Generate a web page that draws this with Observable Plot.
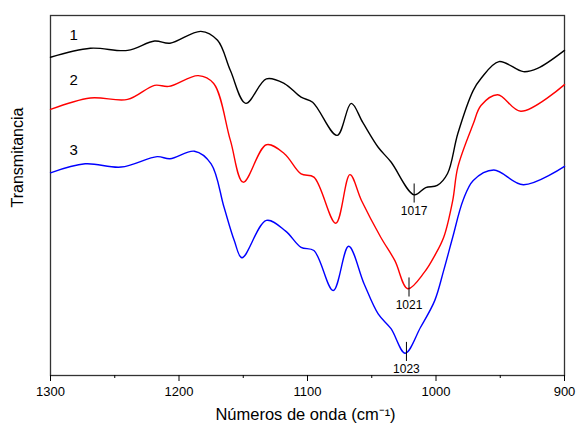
<!DOCTYPE html>
<html>
<head>
<meta charset="utf-8">
<script src="https://cdn.jsdelivr.net/npm/d3@7"></script>
<script src="https://cdn.jsdelivr.net/npm/@observablehq/plot@0.6"></script>
<style>
  html, body { margin: 0; padding: 0; background: #fff; }
</style>
</head>
<body>
<div id="chart"></div>
<script>
// Spectrum 1 (black)
const wn1 = [1300, 1269, 1240, 1219, 1207, 1183, 1170, 1160, 1148, 1132, 1118, 1105, 1096, 1077, 1066, 1057, 1045, 1035, 1017, 1008, 999, 991, 983, 971, 965, 951, 932, 921, 900];
const t1  = [88.4, 90.9, 90.3, 92.9, 92.3, 95.6, 93.1, 84.7, 75.6, 82.4, 81.1, 77.3, 75.9, 66.7, 75.6, 70.3, 63.4, 59.3, 50.2, 52.2, 52.8, 56.1, 67.2, 79.2, 82.5, 87.2, 84.4, 85.3, 90.3];
// Spectrum 2 (red)
const wn2 = [1300, 1269, 1240, 1219, 1208, 1185, 1173, 1160, 1150, 1132, 1118, 1105, 1095, 1078, 1067, 1058, 1043, 1032, 1022, 1009, 1001, 994, 987, 983, 971, 965, 952, 934, 900];
const t2  = [73.9, 77.1, 76.7, 80.6, 80.3, 83.3, 81.1, 65.3, 53.7, 64.1, 61.6, 56.0, 55.1, 42.3, 55.8, 48.6, 38.4, 31.9, 24.1, 28.7, 33.3, 38.4, 48.6, 57.9, 69.9, 75.0, 78.0, 73.4, 80.8];
// Spectrum 3 (blue)
const wn3 = [1300, 1273, 1245, 1217, 1207, 1188, 1175, 1165, 1157, 1151, 1132, 1117, 1105, 1095, 1080, 1068, 1056, 1045, 1035, 1024, 1012, 1001, 994, 987, 979, 971, 955, 932, 900];
const t3  = [56.3, 58.8, 57.9, 60.8, 60.2, 62.3, 58.8, 46.8, 37.5, 32.7, 43.1, 40.1, 35.6, 34.7, 23.6, 35.9, 25.5, 17.1, 13.0, 6.2, 13.4, 20.8, 29.2, 38.4, 48.6, 54.2, 57.1, 53.0, 58.1];

const seriesNames = ["1", "2", "3"];
const seriesColors = ["#000000", "#ff0000", "#0000ff"];
const labelWn = [1282, 1282, 1282];
const labelT = [94.4, 81.9, 62.5];

const peakWn = [1017, 1021, 1023];
const peakT = [50.2, 24.1, 6.2];

const majorTicks = [1300, 1200, 1100, 1000, 900];
const minorTicks = [1250, 1150, 1050, 950];

const xTitle = "Números de onda (cm⁻¹)";
const yTitle = "Transmitancia";

const wnAll = [wn1, wn2, wn3];
const tAll = [t1, t2, t3];
const data = [];
seriesNames.forEach((s, i) => {
  wnAll[i].forEach((w, j) => data.push({series: s, wn: w, t: tAll[i][j]}));
});
const labels = seriesNames.map((s, i) => ({series: s, wn: labelWn[i], t: labelT[i]}));
const peaks = peakWn.map((w, i) => ({wn: w, t: peakT[i]}));

const chart = Plot.plot({
  width: 576,
  height: 430,
  marginLeft: 50,
  marginRight: 12,
  marginTop: 15,
  marginBottom: 55,
  style: {fontFamily: "'Liberation Sans', Arial, sans-serif", fontSize: "13px", background: "#fff", color: "#000"},
  x: {domain: [1300, 900], label: null},
  y: {domain: [0, 100], axis: null},
  color: {domain: seriesNames, range: seriesColors},
  marks: [
    Plot.frame({stroke: "#333", strokeWidth: 1.3}),
    Plot.axisX({ticks: majorTicks, tickSize: 6, tickPadding: 5, tickFormat: d => String(d), label: null, fontSize: 13, stroke: "#000"}),
    Plot.axisX({ticks: minorTicks, tickSize: 3, tickFormat: () => "", label: null, stroke: "#000"}),
    Plot.line(data, {x: "wn", y: "t", z: "series", stroke: "series", strokeWidth: 1.4, curve: "catmull-rom"}),
    Plot.ruleX(peaks, {x: "wn", y1: d => d.t - 2.3, y2: d => d.t + 3.0, stroke: "#000", strokeWidth: 1}),
    Plot.text(peaks, {x: "wn", y: "t", text: d => String(d.wn), dy: 16, fontSize: 12, fill: "#000"}),
    Plot.text(labels, {x: "wn", y: "t", text: "series", fontSize: 15, fill: "#000"}),
    Plot.text([yTitle], {frameAnchor: "left", rotate: -90, dx: -33, dy: 12, fontSize: 16, fill: "#000"}),
    Plot.text([xTitle], {frameAnchor: "bottom", dy: 44, dx: -2, fontSize: 16.5, fill: "#000"})
  ]
});
document.getElementById("chart").appendChild(chart);
</script>
</body>
</html>
